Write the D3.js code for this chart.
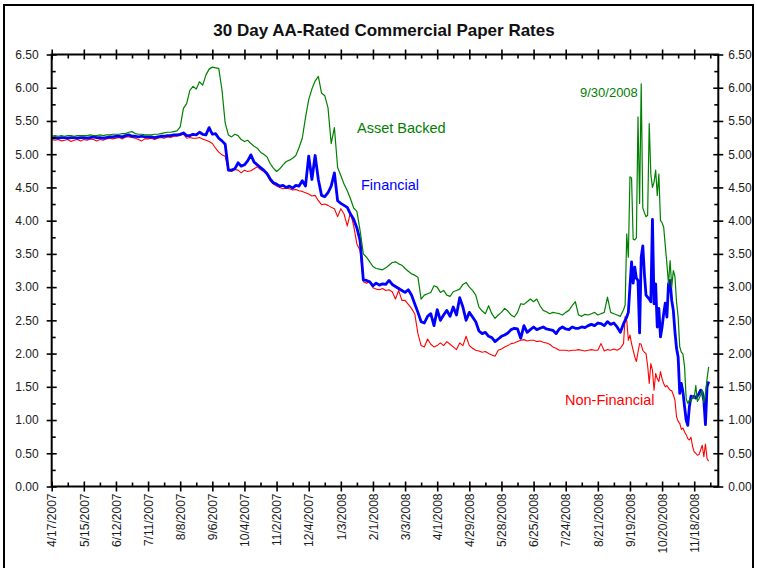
<!DOCTYPE html>
<html>
<head>
<meta charset="utf-8">
<script src="https://cdn.jsdelivr.net/npm/d3@7/dist/d3.min.js"></script>
<style>
  body { margin: 0; background: #fff; }
  svg { display: block; font-family: "Liberation Sans", Arial, sans-serif; }
</style>
</head>
<body>
<svg id="chart" width="757" height="568"></svg>
<script>
// ---- data (30 day AA commercial paper, %), one value per observation index ----
const TITLE = "30 Day AA-Rated Commercial Paper Rates";

// labels every 20 trading days
const dateLabels = [
  "4/17/2007", "5/15/2007", "6/12/2007", "7/11/2007", "8/8/2007", "9/6/2007",
  "10/4/2007", "11/2/2007", "12/4/2007", "1/3/2008", "2/1/2008", "3/3/2008",
  "4/1/2008", "4/29/2008", "5/28/2008", "6/25/2008", "7/24/2008", "8/21/2008",
  "9/19/2008", "10/20/2008", "11/18/2008"
];

// observation index: every 2nd day until mid Sept 2008, then daily
const obsIndex = [...d3.range(0, 356, 2), ...d3.range(356, 410)];

const assetBacked = [
  5.27,5.28,5.27,5.28,5.27,5.28,5.28,5.27,5.28,5.28,
  5.28,5.28,5.29,5.28,5.28,5.29,5.28,5.29,5.29,5.30,
  5.30,5.30,5.31,5.31,5.33,5.34,5.31,5.30,5.30,5.29,
  5.29,5.29,5.30,5.30,5.31,5.32,5.33,5.33,5.34,5.35,
  5.41,5.69,5.76,5.96,6.02,5.98,6.09,6.04,6.19,6.28,
  6.31,6.30,6.29,5.97,5.47,5.29,5.26,5.30,5.28,5.22,
  5.19,5.21,5.16,5.12,5.09,5.03,5.00,4.96,4.86,4.79,
  4.74,4.78,4.84,4.89,4.91,4.94,4.98,5.10,5.24,5.55,
  5.82,5.98,6.10,6.17,5.92,5.88,5.70,5.16,5.40,4.80,
  4.68,4.55,4.45,4.33,4.19,4.14,3.85,3.50,3.45,3.38,
  3.31,3.28,3.27,3.26,3.29,3.33,3.37,3.38,3.35,3.33,
  3.28,3.24,3.20,3.18,3.15,2.82,2.88,2.90,2.92,3.02,
  3.00,2.92,2.95,2.88,2.86,2.93,2.95,2.97,3.04,3.07,
  3.00,2.95,2.88,2.70,2.64,2.60,2.72,2.60,2.53,2.58,
  2.62,2.68,2.64,2.58,2.55,2.62,2.75,2.74,2.78,2.82,
  2.78,2.82,2.72,2.65,2.63,2.60,2.62,2.61,2.60,2.58,
  2.62,2.65,2.72,2.78,2.58,2.56,2.59,2.58,2.60,2.62,
  2.58,2.60,2.62,2.85,2.62,2.60,2.58,2.56,
  // daily from here
  2.66,2.73,3.80,3.45,4.66,4.64,3.72,3.71,3.74,5.56,
  4.26,6.06,4.19,4.12,4.06,4.08,5.46,4.70,4.50,4.58,
  4.76,4.38,4.70,4.00,3.97,3.90,3.62,3.35,3.05,3.40,
  3.00,3.25,3.16,2.78,2.55,2.10,2.02,1.99,1.80,1.32,
  1.25,1.30,1.28,1.35,1.33,1.52,1.28,1.32,1.38,1.45,
  1.26,1.40,1.62,1.80
];

const financial = [
  5.24,5.25,5.24,5.25,5.25,5.24,5.25,5.25,5.24,5.25,
  5.25,5.24,5.25,5.26,5.25,5.25,5.24,5.25,5.26,5.26,
  5.27,5.27,5.26,5.28,5.29,5.27,5.27,5.26,5.27,5.26,
  5.26,5.26,5.25,5.26,5.27,5.27,5.28,5.28,5.29,5.29,
  5.30,5.32,5.28,5.28,5.30,5.29,5.33,5.30,5.29,5.40,
  5.30,5.31,5.24,5.20,5.15,4.76,4.76,4.78,4.87,4.82,
  4.84,4.90,4.99,4.88,4.84,4.80,4.76,4.71,4.63,4.57,
  4.55,4.52,4.53,4.50,4.52,4.49,4.53,4.52,4.60,4.52,
  4.97,4.62,4.98,4.62,4.38,4.36,4.42,4.52,4.72,4.30,
  4.26,4.23,4.20,4.10,4.02,3.89,3.70,3.11,3.10,3.08,
  3.02,3.06,3.03,3.05,3.04,3.10,3.04,3.01,2.98,2.95,
  2.92,2.96,2.88,2.75,2.62,2.48,2.46,2.56,2.60,2.42,
  2.66,2.50,2.58,2.65,2.56,2.70,2.58,2.84,2.70,2.50,
  2.62,2.55,2.48,2.34,2.30,2.32,2.26,2.24,2.18,2.22,
  2.26,2.28,2.31,2.36,2.38,2.37,2.23,2.42,2.32,2.36,
  2.40,2.36,2.38,2.40,2.37,2.36,2.35,2.30,2.37,2.40,
  2.37,2.36,2.40,2.38,2.38,2.40,2.39,2.42,2.44,2.42,
  2.46,2.45,2.42,2.48,2.44,2.46,2.40,2.32,
  // daily from here
  2.45,2.50,2.55,2.62,3.01,3.38,3.06,3.30,3.13,3.10,
  2.31,3.45,3.62,3.20,2.88,2.85,2.82,2.78,4.02,2.75,
  3.05,2.40,2.68,2.25,2.40,2.60,2.76,2.55,3.05,3.10,
  2.80,2.65,2.33,2.08,1.95,1.40,1.55,1.42,1.20,1.00,
  0.92,1.20,1.36,1.34,1.36,1.33,1.36,1.40,1.45,1.42,
  1.30,0.93,1.50,1.58
];

const nonFinancial = [
  5.22,5.21,5.22,5.20,5.21,5.22,5.19,5.21,5.22,5.20,
  5.22,5.21,5.23,5.22,5.20,5.22,5.21,5.23,5.24,5.23,
  5.24,5.25,5.23,5.26,5.26,5.25,5.24,5.22,5.20,5.23,
  5.23,5.24,5.22,5.24,5.25,5.24,5.26,5.25,5.27,5.27,
  5.28,5.30,5.24,5.25,5.24,5.24,5.25,5.23,5.21,5.19,
  5.16,5.09,5.03,4.99,4.97,4.75,4.74,4.77,4.76,4.72,
  4.76,4.74,4.75,4.78,4.81,4.77,4.74,4.69,4.60,4.55,
  4.52,4.50,4.48,4.49,4.48,4.46,4.47,4.45,4.44,4.42,
  4.40,4.37,4.38,4.30,4.24,4.25,4.23,4.20,4.18,4.06,
  4.18,4.10,3.92,4.12,3.92,3.65,3.55,3.08,3.06,3.08,
  2.99,2.97,2.96,2.98,2.95,2.96,2.93,2.82,2.95,2.80,
  2.80,2.74,2.68,2.60,2.30,2.12,2.10,2.22,2.14,2.10,
  2.12,2.16,2.12,2.18,2.14,2.10,2.06,2.16,2.12,2.26,
  2.12,2.08,2.05,2.04,2.02,2.03,2.00,1.98,1.96,2.05,
  2.07,2.10,2.12,2.15,2.16,2.18,2.20,2.21,2.19,2.20,
  2.20,2.18,2.19,2.17,2.16,2.14,2.10,2.08,2.05,2.05,
  2.05,2.04,2.05,2.05,2.06,2.05,2.04,2.05,2.06,2.05,
  2.05,2.15,2.04,2.06,2.05,2.07,2.05,2.08,
  // daily from here
  2.15,2.56,2.50,2.20,2.28,2.15,2.05,1.95,1.88,2.02,
  2.15,2.14,2.05,2.02,2.00,1.82,1.55,1.85,1.75,1.45,
  1.70,1.62,1.58,1.73,1.62,1.55,1.50,1.52,1.48,1.45,
  1.44,1.38,1.30,1.05,0.98,0.95,0.86,0.88,0.82,0.78,
  0.72,0.70,0.74,0.60,0.52,0.50,0.47,0.48,0.55,0.62,
  0.45,0.64,0.42,0.38
];

const COLORS = { asset: "#008000", fin: "#0000ff", nonfin: "#ff0000" };

// ---- layout ----
const svg = d3.select("#chart");
const plot = { left: 51.7, right: 718.3, top: 54.5, bottom: 486.5 };

const x = d3.scaleLinear().domain([0, 415]).range([plot.left, plot.right]);
const y = d3.scaleLinear().domain([0, 6.5]).range([plot.bottom, plot.top]);

const majorY = d3.range(0, 6.51, 0.5);
const minorY = d3.range(0.25, 6.5, 0.5);
const majorX = d3.range(0, 401, 20);
const minorX = d3.range(10, 415, 20);
const fmt = d3.format(".2f");

// outer frame
svg.append("rect")
  .attr("x", 4).attr("y", 5)
  .attr("width", 749).attr("height", 580)
  .attr("fill", "none")
  .attr("stroke", "#000")
  .attr("stroke-width", 2);

// title
svg.append("text")
  .attr("x", 384).attr("y", 36)
  .attr("text-anchor", "middle")
  .attr("font-size", 17)
  .attr("font-weight", "bold")
  .attr("fill", "#111")
  .text(TITLE);

// ---- series ----
function seriesOf(values) {
  return values.map((v, i) => ({ i: obsIndex[i], v }));
}

const line = d3.line().x((d) => x(d.i)).y((d) => y(d.v));

const series = [
  { key: "nonfin", values: nonFinancial, width: 1.1 },
  { key: "fin", values: financial, width: 2.8 },
  { key: "asset", values: assetBacked, width: 1.2 },
];

svg.append("g")
  .selectAll("path")
  .data(series)
  .join("path")
  .attr("fill", "none")
  .attr("stroke", (d) => COLORS[d.key])
  .attr("stroke-width", (d) => d.width)
  .attr("stroke-linejoin", "round")
  .attr("d", (d) => line(seriesOf(d.values)));

// ---- axes ----
function tidy(sel, w) {
  sel.select(".domain").remove();
  sel.selectAll("line").attr("stroke", "#000").attr("stroke-width", w || 1.6);
  sel.selectAll("text").attr("fill", "#1a1a1a").attr("font-size", 12)
    .attr("font-family", "Liberation Sans, Arial, sans-serif");
}

// left
const gl = svg.append("g").attr("transform", `translate(${plot.left},0)`);
gl.append("g").call(d3.axisLeft(y).tickValues(majorY).tickSize(5).tickPadding(8).tickFormat(fmt)).call(tidy);
gl.append("g").call(d3.axisLeft(y).tickValues(majorY).tickSize(-5).tickFormat("")).call(tidy);
gl.append("g").call(d3.axisLeft(y).tickValues(minorY).tickSize(-4).tickFormat("")).call(tidy);

// right
const gr = svg.append("g").attr("transform", `translate(${plot.right},0)`);
gr.append("g").call(d3.axisRight(y).tickValues(majorY).tickSize(5).tickPadding(5).tickFormat(fmt)).call(tidy);
gr.append("g").call(d3.axisRight(y).tickValues(majorY).tickSize(-5).tickFormat("")).call(tidy);
gr.append("g").call(d3.axisRight(y).tickValues(minorY).tickSize(-4).tickFormat("")).call(tidy);

// bottom
const gb = svg.append("g").attr("transform", `translate(0,${plot.bottom})`);
gb.append("g").call(d3.axisBottom(x).tickValues(majorX).tickSize(5).tickFormat((d, i) => dateLabels[i]))
  .call(tidy)
  .call((g) => g.selectAll("text")
    .attr("transform", "rotate(-90)")
    .attr("text-anchor", "end")
    .attr("x", -7)
    .attr("y", 0)
    .attr("dy", "0.35em"));
gb.append("g").call(d3.axisBottom(x).tickValues(majorX).tickSize(-5).tickFormat("")).call(tidy);
gb.append("g").call(d3.axisBottom(x).tickValues(minorX).tickSize(-4).tickFormat("")).call(tidy);

// top
const gt = svg.append("g").attr("transform", `translate(0,${plot.top})`);
gt.append("g").call(d3.axisTop(x).tickValues(majorX).tickSize(5).tickFormat("")).call(tidy);
gt.append("g").call(d3.axisTop(x).tickValues(majorX).tickSize(-5).tickFormat("")).call(tidy);
gt.append("g").call(d3.axisTop(x).tickValues(minorX).tickSize(-4).tickFormat("")).call(tidy);

// plot frame
svg.append("rect")
  .attr("x", plot.left).attr("y", plot.top)
  .attr("width", plot.right - plot.left)
  .attr("height", plot.bottom - plot.top)
  .attr("fill", "none")
  .attr("stroke", "#000")
  .attr("stroke-width", 2);

// ---- annotations ----
const notes = [
  { text: "Asset Backed", x: 357, y: 133, color: COLORS.asset, size: 14.5 },
  { text: "Financial", x: 361, y: 190, color: COLORS.fin, size: 14.5 },
  { text: "Non-Financial", x: 565, y: 405, color: COLORS.nonfin, size: 14.5 },
  { text: "9/30/2008", x: 580, y: 97, color: COLORS.asset, size: 13 },
];

svg.append("g")
  .selectAll("text")
  .data(notes)
  .join("text")
  .attr("x", (d) => d.x)
  .attr("y", (d) => d.y)
  .attr("fill", (d) => d.color)
  .attr("font-size", (d) => d.size)
  .text((d) => d.text);
</script>
</body>
</html>
